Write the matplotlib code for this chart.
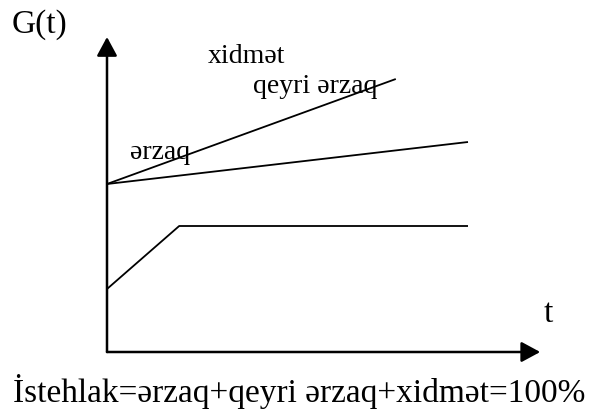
import matplotlib
matplotlib.use("Agg")
import matplotlib.pyplot as plt
import numpy as np

plt.rcParams['font.family'] = ['Liberation Serif', 'DejaVu Serif']

# Data (abstract units)
t_upper = [0, 8]
g_upper = [8, 13]          # xidmət / qeyri ərzaq line
t_middle = [0, 10]
g_middle = [8, 10]
t_lower = [0, 2, 10]
g_lower = [3, 6, 6]
x_axis_end = 12
y_axis_end = 15

labels = {
    "G(t)": (-2.63, 15.24),
    "xidmət": (2.80, 13.81),
    "qeyri ərzaq": (4.04, 12.38),
    "ərzaq": (0.64, 9.24),
}

W, H = 600, 410
px_x, px_y = 36.1, 21.0
ox, oy = 107, 57  # origin in pixels from left/bottom

fig = plt.figure(figsize=(W / 100, H / 100), dpi=100)
ax = fig.add_axes([0, 0, 1, 1])
ax.set_xlim(-ox / px_x, (W - ox) / px_x)
ax.set_ylim(-oy / px_y, (H - oy) / px_y)
ax.axis('off')

lw = 1.3
ax.plot(t_upper, g_upper, color='black', lw=lw, solid_capstyle='butt')
ax.plot(t_middle, g_middle, color='black', lw=lw, solid_capstyle='butt')
ax.plot(t_lower, g_lower, color='black', lw=lw, solid_capstyle='butt')

arrow = dict(arrowstyle='-|>,head_length=0.5,head_width=0.27', color='black',
             lw=1.8, mutation_scale=23, shrinkA=0, shrinkB=0)
ax.annotate('', xy=(x_axis_end, 0), xytext=(0, 0), arrowprops=arrow)
ax.annotate('', xy=(0, y_axis_end), xytext=(0, 0), arrowprops=arrow)

ax.text(*labels["G(t)"], "G(t)", fontsize=24, ha='left', va='baseline')
for k in ["xidmət", "qeyri ərzaq", "ərzaq"]:
    ax.text(*labels[k], k, fontsize=20, ha='left', va='baseline')
ax.text(12.1, 1.48, "t", fontsize=24, ha='left', va='baseline')
ax.text(-2.60, -2.33, "İstehlak=ərzaq+qeyri ərzaq+xidmət=100%", fontsize=24,
        ha='left', va='baseline')

fig.savefig("out.png", dpi=100)
